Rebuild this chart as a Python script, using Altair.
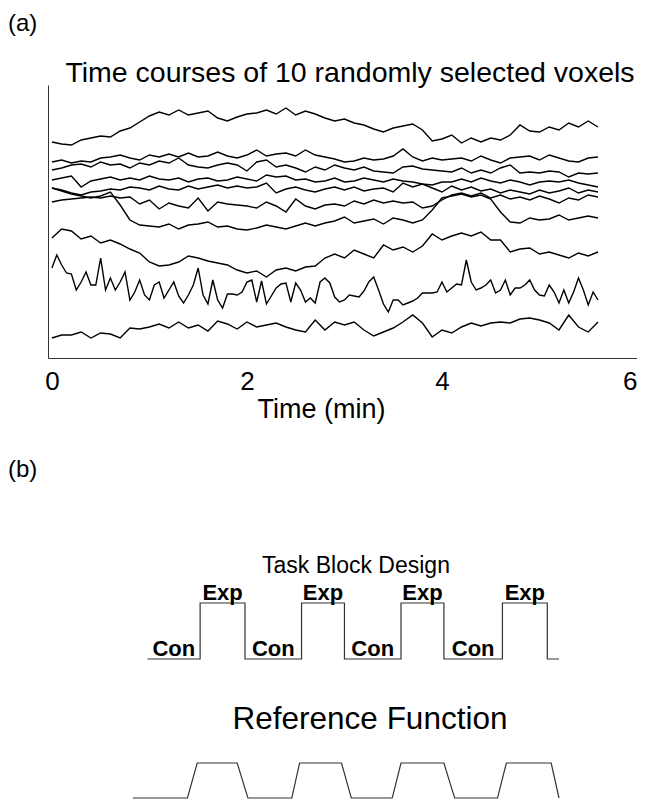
import altair as alt
import pandas as pd

FONT = "Liberation Sans"

# ---------------- Panel (a): time courses (signal, arbitrary units) ----------------
# most voxels sampled every 0.1 min, the noisy one every 0.05 min, from 0 to 5.6 min
voxel_01 = [218,216,215,220,222,224,223,229,232,238,244,248,245,250,245,247,249,242,239,243,
            246,247,250,246,252,245,249,246,242,239,241,237,235,231,228,232,234,236,230,219,
            221,225,217,222,218,222,220,225,235,229,228,233,230,237,233,239,233]
voxel_02 = [198,200,197,199,198,202,203,205,202,200,205,203,206,203,207,203,204,208,204,202,
            205,210,204,206,207,204,210,205,203,201,198,199,202,200,201,204,211,203,199,202,
            200,201,202,199,204,200,197,202,203,204,200,205,202,199,198,202,203]
voxel_03 = [190,192,195,196,193,198,195,196,192,197,195,199,197,202,195,193,192,195,197,195,
            189,198,200,193,195,192,188,193,190,195,192,190,193,189,188,187,193,194,191,190,
            189,188,192,187,190,187,192,195,187,188,187,189,188,183,187,186,187]
voxel_04 = [180,182,184,173,179,181,183,180,182,180,184,181,180,182,178,181,182,179,180,183,
            181,179,185,183,184,180,181,178,179,182,178,179,182,180,178,181,179,178,176,175,
            178,178,181,178,182,179,177,180,178,175,178,179,178,180,177,175,173]
voxel_05 = [172,170,167,165,168,169,171,170,173,172,170,174,171,170,174,171,173,175,172,174,
            172,173,177,167,171,173,170,168,171,173,170,173,169,171,172,168,177,173,176,172,
            168,174,170,173,169,171,167,170,168,166,170,167,169,172,167,170,168]
voxel_06 = [158,160,161,162,163,162,164,162,163,156,160,151,157,154,152,162,149,158,156,155,
            154,152,158,154,148,161,154,151,155,156,154,159,156,160,157,159,157,158,152,154,
            160,165,167,164,167,162,165,161,163,160,164,161,157,162,160,165,163]
voxel_07 = [172,169,166,164,162,164,168,155,140,135,134,133,136,131,135,136,138,133,134,131,
            130,132,135,133,131,134,137,134,137,139,143,137,139,141,136,142,140,137,140,150,
            162,164,166,163,165,161,148,138,137,142,140,141,145,140,142,144,142]
voxel_08 = [122,131,129,121,124,117,120,116,111,107,98,94,95,98,104,102,99,97,95,90,
            87,89,83,90,92,89,93,94,102,106,102,110,106,102,115,110,113,108,114,126,
            120,124,127,124,128,120,120,108,111,112,106,108,105,102,107,104,108]
voxel_09 = [92,105,95,87,86,70,78,88,75,75,102,70,82,70,78,88,60,68,80,65,
            60,75,78,62,70,78,64,57,65,75,92,65,56,80,60,52,66,66,65,68,
            78,80,58,79,56,64,72,76,77,58,77,70,58,62,57,78,82,77,63,58,
            60,65,64,63,69,78,83,70,56,48,60,60,55,57,59,62,67,67,67,68,
            78,68,72,76,75,100,78,70,72,75,80,67,70,80,65,72,72,75,80,70,
            65,64,75,68,57,70,57,68,82,70,55,68,60]
voxel_10 = [22,25,25,28,22,27,26,22,32,31,33,36,32,38,32,35,29,39,36,31,
            38,33,35,37,33,30,28,40,30,38,35,38,30,24,28,32,38,45,37,23,
            30,27,33,37,34,37,38,37,41,42,40,37,30,45,33,28,38]

voxels = {
    "v01": (voxel_01, 0.1), "v02": (voxel_02, 0.1), "v03": (voxel_03, 0.1),
    "v04": (voxel_04, 0.1), "v05": (voxel_05, 0.1), "v06": (voxel_06, 0.1),
    "v07": (voxel_07, 0.1), "v08": (voxel_08, 0.1), "v09": (voxel_09, 0.05),
    "v10": (voxel_10, 0.1),
}

time_ticks = [0, 2, 4, 6]
panel_a_title = "Time courses of 10 randomly selected voxels"

# ---------------- Panel (b): task block design and reference function ----------------
block_times = [0.98, 1.52, 1.98, 2.56, 3.00, 3.58, 4.02, 4.62, 5.08, 5.20]
block_levels = [0, 1, 0, 1, 0, 1, 0, 1, 0, 0]
block_labels = ["Con", "Exp", "Con", "Exp", "Con", "Exp", "Con", "Exp"]

ref_times = [0.83, 1.39, 1.49, 1.90, 2.01, 2.46, 2.54, 2.97, 3.07, 3.49, 3.58, 4.02, 4.13,
             4.57, 4.66, 5.12, 5.20]
ref_levels = [0, 0, 1, 1, 0, 0, 1, 1, 0, 0, 1, 1, 0, 0, 1, 1, 0]

# ---------------- tables ----------------
rows = []
for name, (vals, step) in voxels.items():
    for i, v in enumerate(vals):
        rows.append({"voxel": name, "t": round(i * step, 3), "signal": v, "order": i})
ts_df = pd.DataFrame(rows)

block_df = pd.DataFrame({"t": block_times, "level": block_levels})
lab_df = pd.DataFrame({
    "mid": [(block_times[k] + block_times[k + 1]) / 2 for k in range(len(block_labels))],
    "level": block_levels[:len(block_labels)],
    "label": block_labels,
})
ref_df = pd.DataFrame({"t": ref_times, "level": ref_levels})

PLOT_W = 589
xs = alt.Scale(domain=[-0.04, 6.0], nice=False, zero=False)


def text_layer(label, x, y, size, align="center", baseline="middle", weight="normal"):
    return alt.Chart(pd.DataFrame({"label": [label]})).mark_text(
        font=FONT, fontSize=size, align=align, baseline=baseline, fontWeight=weight, color="black"
    ).encode(text="label:N", x=alt.value(x), y=alt.value(y))


# ---------------- chart (a) ----------------
lines = alt.Chart(ts_df).mark_line(color="black", strokeWidth=1.4).encode(
    x=alt.X("t:Q", scale=xs, axis=alt.Axis(
        values=time_ticks, format="d", title="Time (min)", ticks=False, grid=False,
        domainColor="#333", domainWidth=1, labelFont=FONT, labelFontSize=26, labelColor="black",
        labelPadding=10, labelFlush=True, titleFont=FONT, titleFontSize=27,
        titleFontWeight="normal", titleColor="black", titlePadding=2, titleX=273)),
    y=alt.Y("signal:Q", scale=alt.Scale(domain=[2, 275], nice=False, zero=False),
            axis=alt.Axis(labels=False, ticks=False, title=None, grid=False, domainColor="#333")),
    detail="voxel:N",
    order="order:Q",
)

chart_a = alt.layer(
    lines,
    text_layer(panel_a_title, 302, -3, 28.5, baseline="alphabetic"),
    text_layer("(a)", -40, -73, 24, align="left", baseline="top"),
).properties(width=PLOT_W, height=273)

# ---------------- chart (b) ----------------
B_H = 195
yb = alt.Scale(domain=[-(B_H - 56) / 56, 1], nice=False, zero=False)
yc = alt.Scale(domain=[0, B_H / 35], nice=False, zero=False)

wave = alt.Chart(block_df).mark_line(interpolate="step-after", color="#333", strokeWidth=1.2).encode(
    x=alt.X("t:Q", scale=xs, axis=None),
    y=alt.Y("level:Q", scale=yb, axis=None),
)
wave_text = alt.Chart(lab_df).mark_text(
    font=FONT, fontSize=22, fontWeight="bold", baseline="alphabetic", dy=-3, color="black"
).encode(
    x=alt.X("mid:Q", scale=xs, axis=None),
    y=alt.Y("level:Q", scale=yb, axis=None),
    text="label:N",
)
ref = alt.Chart(ref_df).mark_line(color="#333", strokeWidth=1.2).encode(
    x=alt.X("t:Q", scale=xs, axis=None),
    y=alt.Y("level:Q", scale=yc, axis=None),
)

chart_b = alt.layer(
    wave, wave_text, ref,
    text_layer("Task Block Design", 308, -37, 23),
    text_layer("Reference Function", 322, 117, 31.5),
    text_layer("(b)", -40, -145, 24, align="left", baseline="top"),
).resolve_scale(y="independent").properties(width=PLOT_W, height=B_H)

chart = alt.vconcat(chart_a, chart_b, spacing=245, bounds="flush").properties(
    padding={"top": 4, "left": 0, "right": 0, "bottom": 0}
).configure(font=FONT).configure_view(stroke=None)

chart.save("out.html", embed_options={"renderer": "svg", "actions": False})
